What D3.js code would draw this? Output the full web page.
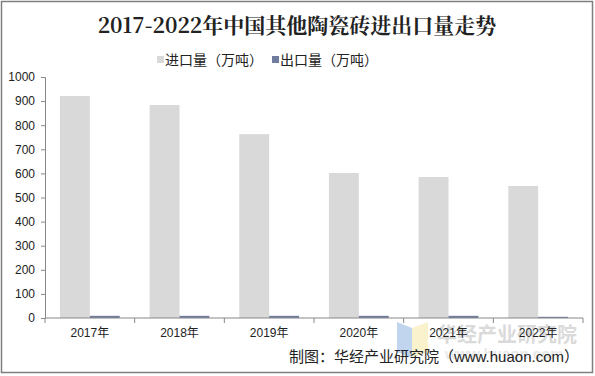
<!DOCTYPE html>
<html>
<head>
<meta charset="utf-8">
<script src="https://cdn.jsdelivr.net/npm/d3@7"></script>
<style>
  body { margin: 0; background: #fff; }
  svg text { font-family: "Liberation Sans", Arial, "Noto Sans CJK SC", sans-serif; }
</style>
</head>
<body>
<div id="chart"></div>
<script>
const years = ['2017年', '2018年', '2019年', '2020年', '2021年', '2022年'];
const imports = [921, 884, 763, 602, 585, 548];
const exports = [9, 9, 9, 9, 9, 5];
const seriesNames = ['进口量（万吨）', '出口量（万吨）'];
const yTicks = [0, 100, 200, 300, 400, 500, 600, 700, 800, 900, 1000];

const width = 595;
const height = 376;
const plotLeft = 45, plotRight = 583, plotTop = 77, plotBottom = 318;

const svg = d3.select('#chart')
    .append('svg')
    .attr('width', width)
    .attr('height', height);

// outer frame
svg.append('rect')
    .attr('x', 1.5).attr('y', 1.5)
    .attr('width', width - 4).attr('height', height - 5)
    .attr('fill', '#fff')
    .attr('stroke', '#7f7f7f')
    .attr('stroke-width', 1.5);

svg.append('text')
    .attr('x', 297).attr('y', 33)
    .attr('text-anchor', 'middle')
    .style('font-family', '"Noto Serif CJK SC", "DejaVu Serif", serif')
    .style('font-size', '21px')
    .style('font-weight', 'bold')
    .attr('fill', '#222')
    .text('2017-2022年中国其他陶瓷砖进出口量走势');

const x = d3.scaleBand().domain(years).range([plotLeft, plotRight]);
const y = d3.scaleLinear().domain([0, 1000]).range([plotBottom, plotTop]);

const barW = x.bandwidth() / 3;
const pad = (x.bandwidth() - 2 * barW) / 2;

// watermark
const wm = svg.append('g').attr('opacity', 0.55);
wm.append('path')
    .attr('d', 'M397,322 L412,328 L412,358 L397,352 Z')
    .attr('fill', '#8fb4e3');
wm.append('path')
    .attr('d', 'M412,328 L428,322 L428,352 L412,358 Z')
    .attr('fill', '#f7e6a6');
wm.append('text')
    .attr('x', 437).attr('y', 342)
    .style('font-size', '20px')
    .style('font-weight', 'bold')
    .attr('fill', '#bdbdbd')
    .text('华经产业研究院');
wm.append('text')
    .attr('x', 445).attr('y', 359)
    .style('font-size', '15px')
    .style('font-weight', 'bold')
    .attr('fill', '#d6d6d6')
    .text('www.huaon.com');

svg.append('g')
    .selectAll('rect')
    .data(imports)
    .join('rect')
    .attr('x', (d, i) => x(years[i]) + pad)
    .attr('y', d => y(d))
    .attr('width', barW)
    .attr('height', d => y(0) - y(d))
    .attr('fill', '#d9d9d9');

svg.append('g')
    .selectAll('rect')
    .data(exports)
    .join('rect')
    .attr('x', (d, i) => x(years[i]) + pad + barW)
    .attr('y', d => y(d))
    .attr('width', barW)
    .attr('height', d => y(0) - y(d))
    .attr('fill', '#6f7c9e');

const yAxis = svg.append('g')
    .attr('transform', 'translate(' + plotLeft + ',0)')
    .call(d3.axisLeft(y).tickValues(yTicks).tickFormat(d3.format('d')).tickSize(4).tickPadding(6));
yAxis.selectAll('text').style('font-size', '12px').attr('fill', '#222');
yAxis.selectAll('.domain, line').attr('stroke', '#888');

const xAxis = svg.append('g')
    .attr('transform', 'translate(0,' + plotBottom + ')')
    .call(d3.axisBottom(x).tickSize(0).tickPadding(10));
xAxis.select('.domain').remove();
xAxis.selectAll('text').style('font-size', '12px').attr('fill', '#222');

svg.append('line')
    .attr('x1', plotLeft).attr('x2', plotRight)
    .attr('y1', plotBottom).attr('y2', plotBottom)
    .attr('stroke', '#888');

// category boundary ticks
svg.append('g')
    .selectAll('line')
    .data(d3.range(years.length + 1))
    .join('line')
    .attr('x1', i => plotLeft + i * x.step())
    .attr('x2', i => plotLeft + i * x.step())
    .attr('y1', plotBottom).attr('y2', plotBottom + 5)
    .attr('stroke', '#888');

// legend
const colors = ['#d9d9d9', '#6f7c9e'];
const legendX = [157, 272];
seriesNames.forEach((name, i) => {
  svg.append('rect')
      .attr('x', legendX[i]).attr('y', 56)
      .attr('width', 7).attr('height', 7)
      .attr('fill', colors[i]);
  svg.append('text')
      .attr('x', legendX[i] + 8).attr('y', 65)
      .style('font-size', '14px')
      .attr('fill', '#222')
      .text(name);
});

svg.append('text')
    .attr('x', 579).attr('y', 362)
    .attr('text-anchor', 'end')
    .style('font-size', '15px')
    .attr('fill', '#222')
    .text('制图：华经产业研究院（www.huaon.com）');
</script>
</body>
</html>
